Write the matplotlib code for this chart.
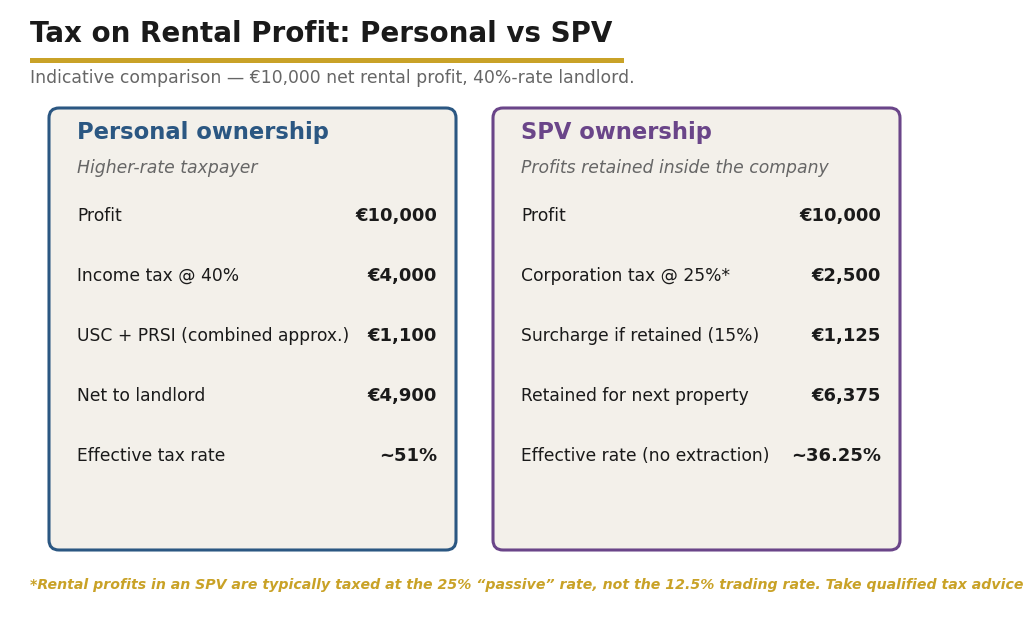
import matplotlib.pyplot as plt
from matplotlib.patches import FancyBboxPatch, Rectangle

# data
personal_labels = ["Profit", "Income tax @ 40%", "USC + PRSI (combined approx.)",
                   "Net to landlord", "Effective tax rate"]
personal_values = ["€10,000", "€4,000", "€1,100", "€4,900", "~51%"]
spv_labels = ["Profit", "Corporation tax @ 25%*", "Surcharge if retained (15%)",
              "Retained for next property", "Effective rate (no extraction)"]
spv_values = ["€10,000", "€2,500", "€1,125", "€6,375", "~36.25%"]

W, H = 1024, 622
fig = plt.figure(figsize=(W / 100, H / 100), dpi=100)
ax = fig.add_axes([0, 0, 1, 1])
ax.set_xlim(0, W)
ax.set_ylim(H, 0)
ax.axis("off")

plt.rcParams['font.family'] = ['DejaVu Sans']

ax.text(30, 34, "Tax on Rental Profit: Personal vs SPV", fontsize=20,
        fontweight="bold", color="#1a1a1a", va="center")
ax.add_patch(Rectangle((30, 58), 594, 5, color="#C9A227", lw=0))
ax.text(30, 78, "Indicative comparison — €10,000 net rental profit, 40%-rate landlord.",
        fontsize=12.4, color="#666666", va="center")


def card(x0, color, head, sub, labels, values):
    ax.add_patch(FancyBboxPatch((x0, 108), 407, 442,
                                boxstyle="round,pad=0,rounding_size=10",
                                fc="#F3F0EA", ec=color, lw=2.2))
    ax.text(x0 + 28, 133, head, fontsize=16.3, fontweight="bold",
            color=color, va="center")
    ax.text(x0 + 28, 168, sub, fontsize=12.4, style="italic",
            color="#666666", va="center")
    for i, (lab, val) in enumerate(zip(labels, values)):
        y = 216 + i * 60
        ax.text(x0 + 28, y, lab, fontsize=12.3, color="#1a1a1a", va="center")
        ax.text(x0 + 388, y, val, fontsize=13, fontweight="bold",
                color="#1a1a1a", va="center", ha="right")


card(49, "#2B5782", "Personal ownership", "Higher-rate taxpayer",
     personal_labels, personal_values)
card(493, "#6A4589", "SPV ownership", "Profits retained inside the company",
     spv_labels, spv_values)

ax.text(30, 585, "*Rental profits in an SPV are typically taxed at the 25% \u201cpassive\u201d rate, "
        "not the 12.5% trading rate. Take qualified tax advice.",
        fontsize=10.2, fontweight="bold", style="italic", color="#C9A227", va="center")

fig.savefig("out.png", dpi=100, facecolor="white")
